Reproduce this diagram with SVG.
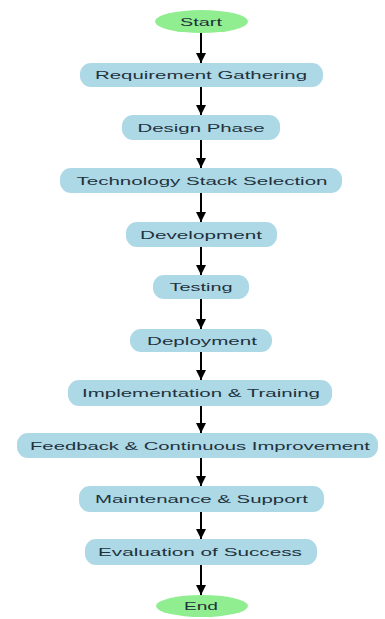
<svg xmlns="http://www.w3.org/2000/svg" width="385" height="619" viewBox="0 0 385 619">
<style>
.box{fill:#add8e6;}
.term{fill:#90ee90;}
.t{font-family:"Liberation Sans",Arial,sans-serif;font-size:11px;fill:#22323c;text-anchor:middle;dominant-baseline:central;}
.c{stroke:#000;stroke-width:2;fill:none;marker-end:url(#ah);}
</style>
<defs>
<marker id="ah" viewBox="0 0 10 10" refX="10" refY="5" markerWidth="5" markerHeight="6" orient="auto" markerUnits="strokeWidth">
<path d="M0,0 L10,5 L0,10 Z" fill="#000"/>
</marker>
</defs>
<rect width="385" height="619" fill="#fff"/>
<g id="connectors">
<line class="c" x1="201" y1="33" x2="201" y2="63"/>
<line class="c" x1="201" y1="87" x2="201" y2="115"/>
<line class="c" x1="201" y1="140" x2="201" y2="168"/>
<line class="c" x1="201" y1="193" x2="201" y2="222"/>
<line class="c" x1="201" y1="247" x2="201" y2="275"/>
<line class="c" x1="201" y1="299" x2="201" y2="329"/>
<line class="c" x1="201" y1="352" x2="201" y2="380"/>
<line class="c" x1="201" y1="406" x2="201" y2="433"/>
<line class="c" x1="201" y1="458" x2="201" y2="486"/>
<line class="c" x1="201" y1="512" x2="201" y2="539"/>
<line class="c" x1="201" y1="565" x2="201" y2="595"/>
</g>
<g id="start"><ellipse class="term" cx="201.5" cy="21.5" rx="46.5" ry="11.5"/><text class="t" x="201" y="21.5" textLength="42" lengthAdjust="spacingAndGlyphs">Start</text></g>
<g id="req"><rect class="box" x="80" y="63" width="243" height="24" rx="11"/><text class="t" x="201" y="75" textLength="212" lengthAdjust="spacingAndGlyphs">Requirement Gathering</text></g>
<g id="design"><rect class="box" x="122" y="115" width="158" height="25" rx="11"/><text class="t" x="201" y="127.5" textLength="127" lengthAdjust="spacingAndGlyphs">Design Phase</text></g>
<g id="tech"><rect class="box" x="60" y="168" width="282" height="25" rx="11"/><text class="t" x="202" y="180.5" textLength="251" lengthAdjust="spacingAndGlyphs">Technology Stack Selection</text></g>
<g id="dev"><rect class="box" x="126" y="222" width="151" height="25" rx="11"/><text class="t" x="201" y="234.5" textLength="122" lengthAdjust="spacingAndGlyphs">Development</text></g>
<g id="test"><rect class="box" x="153" y="275" width="96" height="24" rx="11"/><text class="t" x="201" y="287" textLength="63" lengthAdjust="spacingAndGlyphs">Testing</text></g>
<g id="deploy"><rect class="box" x="130" y="329" width="142" height="23" rx="11"/><text class="t" x="202" y="340.5" textLength="110" lengthAdjust="spacingAndGlyphs">Deployment</text></g>
<g id="impl"><rect class="box" x="68" y="380" width="264" height="26" rx="11"/><text class="t" x="201" y="393" textLength="238" lengthAdjust="spacingAndGlyphs">Implementation &amp; Training</text></g>
<g id="feedback"><rect class="box" x="17" y="433" width="361" height="25" rx="11"/><text class="t" x="200" y="445.5" textLength="340" lengthAdjust="spacingAndGlyphs">Feedback &amp; Continuous Improvement</text></g>
<g id="maint"><rect class="box" x="79" y="486" width="245" height="26" rx="11"/><text class="t" x="201.5" y="499" textLength="213" lengthAdjust="spacingAndGlyphs">Maintenance &amp; Support</text></g>
<g id="eval"><rect class="box" x="85" y="539" width="232" height="26" rx="11"/><text class="t" x="200" y="552" textLength="204" lengthAdjust="spacingAndGlyphs">Evaluation of Success</text></g>
<g id="end"><ellipse class="term" cx="202" cy="606" rx="46" ry="11"/><text class="t" x="201" y="606" textLength="34" lengthAdjust="spacingAndGlyphs">End</text></g>
</svg>
